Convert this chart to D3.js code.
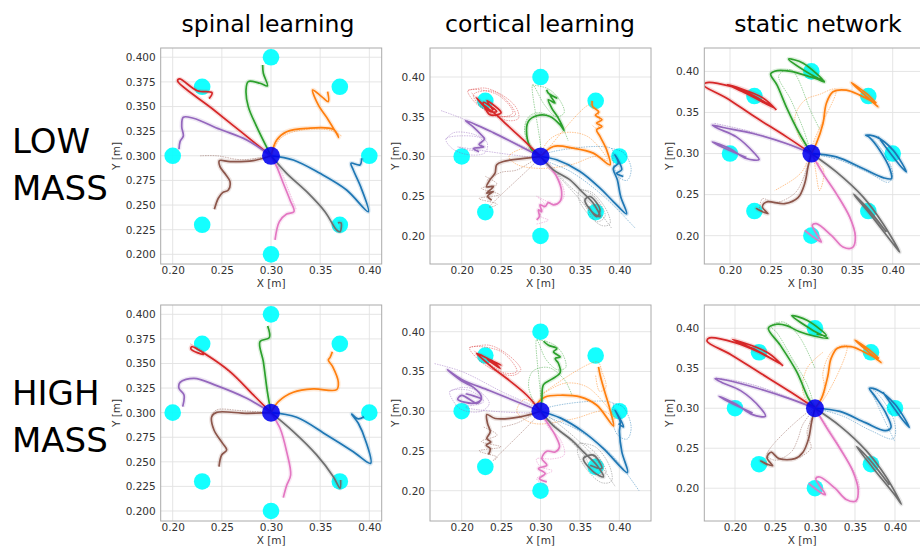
<!DOCTYPE html>
<html><head><meta charset="utf-8">
<script src="https://cdn.jsdelivr.net/npm/d3@7"></script>
<style>body{margin:0;background:#fff}svg{display:block;font-family:"DejaVu Sans",sans-serif}</style>
</head><body><svg id="c" width="920" height="549"></svg>
<script>
const columnTitles = ["spinal learning", "cortical learning", "static network"];
const rowLabels = [["LOW", "MASS"], ["HIGH", "MASS"]];
const colorNames = ["blue", "orange", "green", "red", "purple", "brown", "pink", "gray"];
const palette = {blue:"#1f77b4", orange:"#ff7f0e", green:"#2ca02c", red:"#d62728",
  purple:"#9467bd", brown:"#8c564b", pink:"#e377c2", gray:"#6f6f6f"};
const targetX = [0.30, 0.37, 0.40, 0.37, 0.30, 0.23, 0.20, 0.23];
const targetY = [0.40, 0.37, 0.30, 0.23, 0.20, 0.23, 0.30, 0.37];
const startX = [0.30], startY = [0.30];
const xTicks = [0.20, 0.25, 0.30, 0.35, 0.40];
const yTicksFine = [0.200, 0.225, 0.250, 0.275, 0.300, 0.325, 0.350, 0.375, 0.400];
const yTicksCoarse = [0.20, 0.25, 0.30, 0.35, 0.40];

// ---- spinal learning, low mass
const spinalLow = {
  red: [[0.3,0.3],[0.27,0.324],[0.24,0.348],[0.205,0.376],[0.207,0.378],[0.225,0.366],[0.24,0.364],[0.237,0.358]],
  green: [[0.3,0.3],[0.2854,0.3296],[0.2769,0.3499],[0.2746,0.3668],[0.2769,0.3753],[0.2888,0.3736],[0.2963,0.3709],[0.2922,0.3838],[0.2915,0.3922]],
  orange: [[0.3,0.3],[0.3058,0.3161],[0.3159,0.3245],[0.3363,0.3279],[0.3634,0.3269],[0.3688,0.3188],[0.3583,0.3364],[0.3481,0.3516],[0.3424,0.3668],[0.3515,0.3601],[0.3583,0.355],[0.3576,0.3651]],
  blue: [[0.3,0.3],[0.3227,0.2958],[0.3498,0.2822],[0.3769,0.2653],[0.399,0.2433],[0.3912,0.2687],[0.3837,0.2856],[0.3814,0.2924],[0.3905,0.2907],[0.3922,0.2975]],
  gray: [[0.3,0.3],[0.3159,0.2822],[0.3363,0.2636],[0.3549,0.2433],[0.3668,0.2247],[0.3702,0.223],[0.3712,0.232],[0.368,0.232]],
  pink: [[0.3,0.3],[0.3058,0.289],[0.3125,0.2721],[0.3193,0.2552],[0.3234,0.2433],[0.3159,0.2409],[0.3085,0.2332],[0.3041,0.2146]],
  brown: [[0.3,0.3],[0.282,0.2951],[0.2583,0.2941],[0.2475,0.2951],[0.2481,0.289],[0.2542,0.2805],[0.2583,0.2738],[0.2566,0.2653],[0.2508,0.2626],[0.2464,0.2569],[0.2424,0.2457]],
  purple: [[0.3,0.3],[0.2753,0.3161],[0.2481,0.3269],[0.221,0.3381],[0.2108,0.3391],[0.2092,0.3296],[0.2108,0.3201],[0.2075,0.3144],[0.2064,0.3066]]
};
const spinalLowFaint = {
  brown: [[0.3,0.3],[0.27,0.296],[0.245,0.3],[0.228,0.3]],
  orange: [[0.3,0.3],[0.31,0.318],[0.33,0.326],[0.36,0.326],[0.372,0.32]],
  pink: [[0.3,0.3],[0.31,0.285],[0.318,0.265],[0.326,0.245]]
};
// ---- spinal learning, high mass
const spinalHigh = {
  red: [[0.3,0.3],[0.282,0.318],[0.2583,0.3417],[0.2346,0.3586],[0.2193,0.3671],[0.2186,0.3647],[0.2312,0.3593],[0.2295,0.362]],
  green: [[0.3,0.3],[0.2963,0.3214],[0.2922,0.3519],[0.2888,0.3722],[0.2983,0.3763],[0.2966,0.3881]],
  orange: [[0.3,0.3],[0.3075,0.3112],[0.3227,0.3207],[0.343,0.3241],[0.3668,0.3234],[0.3685,0.3308],[0.3627,0.3468],[0.3583,0.3536],[0.36,0.356],[0.3624,0.362]],
  blue: [[0.3,0.3],[0.3261,0.2953],[0.3566,0.2773],[0.3837,0.2603],[0.4014,0.2485],[0.3966,0.2705],[0.3888,0.2892],[0.382,0.2986],[0.3888,0.2936],[0.3946,0.2959]],
  gray: [[0.3,0.3],[0.3227,0.2807],[0.3464,0.257],[0.3634,0.2349],[0.3702,0.2231],[0.3708,0.2315]],
  pink: [[0.3,0.3],[0.3092,0.2841],[0.3159,0.2603],[0.32,0.2366],[0.3159,0.2258],[0.3125,0.2136]],
  brown: [[0.3,0.3],[0.2753,0.2993],[0.2447,0.3003],[0.2397,0.2959],[0.242,0.2824],[0.2508,0.2688],[0.2549,0.262],[0.2498,0.2569],[0.2471,0.2451]],
  purple: [[0.3,0.3],[0.2753,0.3146],[0.2447,0.3275],[0.2217,0.3349],[0.2075,0.3308],[0.2064,0.3247],[0.2115,0.318],[0.2102,0.3061]]
};
const spinalHighFaint = {
  brown: [[0.3,0.3],[0.27,0.302],[0.245,0.303],[0.24,0.298]],
  red: [[0.3,0.3],[0.27,0.33],[0.24,0.356],[0.218,0.37]]
};
// ---- cortical learning, low mass
const corticalLow = {
  red: [[0.3,0.3],[0.2782,0.321],[0.2571,0.34],[0.2444,0.352],[0.2275,0.3651],[0.219,0.3735],[0.2359,0.3567],[0.2444,0.3567],[0.2275,0.368],[0.2359,0.3525],[0.25,0.355],[0.232,0.37],[0.24,0.358]],
  green: [[0.3,0.3],[0.2888,0.3084],[0.2825,0.3273],[0.2846,0.3441],[0.2951,0.3513],[0.3121,0.3504],[0.3247,0.3399],[0.3298,0.3328],[0.3226,0.3483],[0.3142,0.3609],[0.3099,0.3714],[0.3184,0.3672],[0.312,0.3777],[0.3205,0.3735],[0.3099,0.3798],[0.3078,0.384]],
  orange: [[0.3,0.3],[0.3163,0.3126],[0.3416,0.3105],[0.367,0.3042],[0.3882,0.2895],[0.3839,0.3084],[0.3755,0.3252],[0.3712,0.3336],[0.378,0.3378],[0.3712,0.342],[0.378,0.3462],[0.3697,0.352],[0.374,0.356],[0.366,0.363],[0.3655,0.37]],
  blue: [[0.3,0.3],[0.3205,0.2958],[0.3501,0.2811],[0.3755,0.2601],[0.3924,0.2433],[0.4093,0.2277],[0.4017,0.2496],[0.3975,0.2706],[0.3924,0.2853],[0.3987,0.2916],[0.3945,0.3021],[0.403,0.2832],[0.3966,0.279],[0.4051,0.2748]],
  gray: [[0.3,0.3],[0.3163,0.2832],[0.3374,0.2706],[0.3522,0.2559],[0.367,0.2412],[0.3755,0.2244],[0.367,0.2286],[0.3564,0.2454],[0.3628,0.2496],[0.3755,0.2328],[0.3712,0.2244],[0.3607,0.237]],
  pink: [[0.3,0.3],[0.3099,0.2895],[0.3205,0.2748],[0.3268,0.2559],[0.3247,0.2433],[0.3163,0.2391],[0.3099,0.242],[0.3057,0.237],[0.2994,0.2391],[0.3015,0.2307],[0.2973,0.2328],[0.2986,0.2244],[0.2951,0.2202]],
  brown: [[0.3,0.3],[0.2825,0.2979],[0.2529,0.2937],[0.2444,0.2895],[0.2423,0.279],[0.2359,0.2706],[0.2317,0.262],[0.2402,0.2622],[0.2317,0.2538],[0.24,0.256],[0.233,0.25],[0.238,0.245]],
  purple: [[0.3,0.3],[0.27,0.315],[0.24,0.33],[0.205,0.345],[0.215,0.337],[0.225,0.327],[0.229,0.322],[0.222,0.315],[0.228,0.312],[0.215,0.31],[0.222,0.306]]
};
const corticalLowFaint = {
  red: [[0.208,0.383],[0.23,0.386],[0.255,0.375],[0.27,0.36],[0.272,0.348],[0.26,0.345],[0.235,0.355],[0.215,0.37],[0.208,0.383],[0.245,0.378],[0.265,0.355],[0.25,0.35],[0.222,0.365],[0.215,0.378],[0.24,0.382],[0.262,0.365],[0.268,0.352],[0.245,0.352],[0.22,0.372],[0.212,0.381]],
  purple: [[0.18,0.322],[0.19,0.33],[0.215,0.328],[0.232,0.318],[0.23,0.305],[0.21,0.302],[0.188,0.31],[0.18,0.322],[0.2,0.326],[0.225,0.322],[0.22,0.308],[0.195,0.312],[0.3,0.3],[0.25,0.325],[0.2,0.348],[0.173,0.358]],
  brown: [[0.23,0.275],[0.245,0.265],[0.225,0.26],[0.248,0.252],[0.222,0.247],[0.245,0.24],[0.235,0.236],[0.3,0.3],[0.27,0.283],[0.25,0.28],[0.232,0.27]],
  orange: [[0.3,0.3],[0.28,0.31],[0.26,0.3],[0.27,0.29],[0.3,0.285],[0.34,0.29],[0.37,0.3],[0.385,0.295],[0.36,0.325],[0.33,0.33],[0.31,0.32],[0.3,0.3],[0.362,0.365],[0.37,0.36],[0.375,0.345],[0.372,0.335],[0.365,0.34]],
  gray: [[0.35,0.258],[0.365,0.255],[0.385,0.23],[0.388,0.215],[0.378,0.213],[0.36,0.228],[0.348,0.248],[0.35,0.258],[0.368,0.25],[0.382,0.225],[0.372,0.218],[0.355,0.24],[0.3,0.3],[0.34,0.26],[0.37,0.235],[0.39,0.21]],
  blue: [[0.39,0.31],[0.405,0.305],[0.415,0.285],[0.41,0.27],[0.398,0.275],[0.392,0.295],[0.39,0.31],[0.3,0.3],[0.34,0.28],[0.38,0.25],[0.42,0.21]],
  green: [[0.29,0.39],[0.31,0.385],[0.325,0.37],[0.33,0.355],[0.32,0.35],[0.305,0.365],[0.29,0.39],[0.3,0.3],[0.28,0.33],[0.285,0.35],[0.3,0.355],[0.325,0.34],[0.335,0.32]],
  pink: [[0.3,0.3],[0.31,0.285],[0.325,0.27],[0.33,0.25],[0.32,0.24],[0.305,0.245],[0.295,0.25],[0.305,0.24],[0.3,0.225],[0.31,0.22],[0.295,0.215]]
};
// ---- cortical learning, high mass
const corticalHigh = {
  red: [[0.3,0.3],[0.2827,0.3201],[0.2573,0.3411],[0.24,0.354],[0.2235,0.3683],[0.2192,0.3725],[0.24,0.362],[0.2488,0.3537],[0.232,0.366],[0.25,0.358],[0.235,0.364]],
  green: [[0.3,0.3],[0.3017,0.3138],[0.3038,0.3335],[0.3144,0.3403],[0.325,0.3486],[0.3228,0.36],[0.3186,0.3662],[0.325,0.3683],[0.3165,0.3746],[0.3207,0.3788],[0.3101,0.383],[0.3038,0.388]],
  orange: [[0.3,0.3],[0.2953,0.3075],[0.3059,0.318],[0.325,0.3201],[0.3503,0.318],[0.3715,0.3075],[0.3926,0.2816],[0.3884,0.3013],[0.3841,0.3159],[0.3791,0.3327],[0.3757,0.3453],[0.3736,0.3558]],
  blue: [[0.3,0.3],[0.325,0.2916],[0.3545,0.274],[0.3799,0.253],[0.4104,0.2228],[0.4032,0.2488],[0.4002,0.274],[0.4011,0.2866],[0.3947,0.3013],[0.4053,0.2803],[0.399,0.2845]],
  gray: [[0.3,0.3],[0.3165,0.2816],[0.3397,0.2635],[0.3545,0.2488],[0.3715,0.2321],[0.3799,0.2174],[0.3672,0.2237],[0.3545,0.2405],[0.3672,0.2447],[0.3778,0.2279],[0.363,0.2321]],
  pink: [[0.3,0.3],[0.308,0.2866],[0.3186,0.2698],[0.3241,0.2551],[0.3186,0.2488],[0.308,0.2497],[0.3017,0.2405],[0.308,0.2321],[0.2975,0.2279],[0.3059,0.2216],[0.2987,0.2153],[0.308,0.2111]],
  brown: [[0.3,0.3],[0.2742,0.2929],[0.2425,0.2908],[0.2319,0.2958],[0.2328,0.2845],[0.2362,0.274],[0.2319,0.2656],[0.237,0.2614],[0.2311,0.2572],[0.2362,0.253],[0.234,0.2455]],
  purple: [[0.3,0.3],[0.27,0.312],[0.235,0.326],[0.2,0.34],[0.182,0.352],[0.2,0.338],[0.215,0.33],[0.225,0.318],[0.22,0.31],[0.2,0.32],[0.195,0.315],[0.215,0.31],[0.225,0.315],[0.205,0.322]]
};
const corticalHighFaint = {
  red: [[0.21,0.38],[0.235,0.383],[0.26,0.37],[0.275,0.352],[0.265,0.345],[0.24,0.352],[0.218,0.368],[0.21,0.38],[0.25,0.375],[0.27,0.35],[0.255,0.348],[0.228,0.365],[0.215,0.377]],
  purple: [[0.185,0.325],[0.2,0.33],[0.222,0.325],[0.235,0.31],[0.225,0.3],[0.2,0.302],[0.188,0.315],[0.185,0.325],[0.21,0.326],[0.228,0.312],[0.205,0.305],[0.3,0.3],[0.25,0.325],[0.2,0.35],[0.165,0.36]],
  brown: [[0.228,0.28],[0.245,0.27],[0.225,0.262],[0.25,0.255],[0.222,0.25],[0.245,0.242],[0.24,0.238],[0.3,0.3],[0.27,0.285],[0.25,0.28]],
  orange: [[0.3,0.3],[0.28,0.315],[0.27,0.3],[0.29,0.285],[0.34,0.29],[0.38,0.3],[0.395,0.29],[0.36,0.33],[0.33,0.335],[0.3,0.32],[0.372,0.362],[0.378,0.35],[0.383,0.33],[0.375,0.325],[0.37,0.345]],
  gray: [[0.35,0.26],[0.37,0.255],[0.388,0.23],[0.39,0.212],[0.378,0.21],[0.36,0.225],[0.347,0.248],[0.35,0.26],[0.372,0.245],[0.383,0.222],[0.368,0.222],[0.355,0.245],[0.3,0.3],[0.34,0.27],[0.37,0.24],[0.395,0.205]],
  blue: [[0.392,0.31],[0.405,0.305],[0.415,0.28],[0.41,0.265],[0.398,0.27],[0.39,0.295],[0.392,0.31],[0.3,0.3],[0.35,0.275],[0.39,0.245],[0.425,0.2]],
  green: [[0.295,0.39],[0.315,0.385],[0.328,0.372],[0.332,0.355],[0.322,0.352],[0.307,0.365],[0.295,0.39],[0.3,0.3],[0.285,0.33],[0.29,0.35],[0.31,0.355],[0.33,0.34],[0.34,0.32]],
  pink: [[0.3,0.3],[0.31,0.28],[0.325,0.265],[0.33,0.245],[0.315,0.24],[0.295,0.24],[0.3,0.23],[0.315,0.225],[0.295,0.215],[0.31,0.205]]
};
// ---- static network, low mass
const staticLow = {
  red: [[0.3,0.3],[0.27,0.32],[0.23,0.345],[0.195,0.368],[0.168,0.383],[0.17,0.386],[0.2,0.382],[0.23,0.37],[0.255,0.355],[0.22,0.373],[0.197,0.384],[0.24,0.368],[0.257,0.353]],
  green: [[0.3,0.3],[0.285,0.325],[0.27,0.355],[0.258,0.383],[0.25,0.397],[0.258,0.401],[0.275,0.4],[0.3,0.393],[0.316,0.388],[0.3,0.396],[0.272,0.415],[0.29,0.41],[0.316,0.387],[0.305,0.392]],
  orange: [[0.3,0.3],[0.3061,0.3122],[0.3143,0.3366],[0.3184,0.361],[0.3266,0.3752],[0.343,0.3772],[0.3594,0.3711],[0.3717,0.365],[0.382,0.3569],[0.3635,0.3732],[0.3492,0.3862],[0.3676,0.3732],[0.3799,0.361]],
  blue: [[0.3,0.3],[0.3307,0.2959],[0.3635,0.2817],[0.3881,0.2707],[0.3984,0.2695],[0.3963,0.2817],[0.384,0.3041],[0.3717,0.3195],[0.3668,0.3224],[0.3799,0.3203],[0.4004,0.3041],[0.4168,0.2776],[0.4086,0.2858],[0.382,0.3203]],
  gray: [[0.3,0.3],[0.3307,0.2776],[0.3635,0.2472],[0.3881,0.2146],[0.4086,0.18],[0.4004,0.1902],[0.3717,0.2268],[0.352,0.2504],[0.3676,0.235],[0.3922,0.2045]],
  pink: [[0.3,0.3],[0.3143,0.2756],[0.3307,0.2512],[0.3471,0.2228],[0.3541,0.1984],[0.3504,0.1854],[0.3389,0.1862],[0.3246,0.2004],[0.3061,0.2146],[0.3012,0.2126],[0.3123,0.1923],[0.3082,0.1943],[0.2918,0.2065]],
  brown: [[0.3,0.3],[0.2959,0.2837],[0.2918,0.2634],[0.2836,0.2463],[0.2672,0.239],[0.2447,0.2411],[0.2398,0.235],[0.2467,0.2268],[0.2324,0.2329],[0.2406,0.2289]],
  purple: [[0.3,0.3],[0.2693,0.3122],[0.2283,0.3244],[0.1914,0.3317],[0.1783,0.3346],[0.1852,0.3305],[0.2078,0.3203],[0.2303,0.3],[0.2357,0.2927],[0.2201,0.2939],[0.1996,0.3061],[0.1783,0.3142],[0.1914,0.3073],[0.2201,0.2951]]
};
const staticLowFaint = {
  orange: [[0.3,0.3],[0.285,0.32],[0.28,0.345],[0.292,0.365],[0.31,0.372],[0.33,0.378],[0.3,0.3],[0.315,0.28],[0.31,0.255],[0.3,0.3],[0.29,0.28],[0.28,0.27],[0.255,0.255]],
  green: [[0.3,0.3],[0.29,0.33],[0.275,0.365],[0.26,0.395],[0.275,0.402],[0.3,0.35],[0.31,0.33]],
  brown: [[0.3,0.3],[0.292,0.275],[0.28,0.252],[0.255,0.24],[0.24,0.245],[0.236,0.232]],
  pink: [[0.3,0.3],[0.318,0.27],[0.337,0.24],[0.352,0.21],[0.355,0.188]],
  blue: [[0.3,0.3],[0.335,0.292],[0.37,0.277],[0.395,0.265],[0.4,0.275],[0.39,0.3],[0.375,0.318]],
  purple: [[0.3,0.3],[0.26,0.315],[0.22,0.328],[0.18,0.337]]
};
// ---- static network, high mass
const staticHigh = {
  red: [[0.3,0.3],[0.27,0.32],[0.23,0.345],[0.195,0.367],[0.165,0.384],[0.168,0.388],[0.2,0.382],[0.23,0.37],[0.258,0.355],[0.222,0.375],[0.197,0.386],[0.24,0.37],[0.26,0.353]],
  green: [[0.3,0.3],[0.2917,0.3125],[0.2771,0.3458],[0.2563,0.3792],[0.2417,0.4],[0.2521,0.405],[0.2646,0.4033],[0.28,0.396],[0.3,0.39],[0.316,0.3875],[0.298,0.397],[0.271,0.4158],[0.29,0.41],[0.314,0.391],[0.302,0.393]],
  orange: [[0.3,0.3],[0.308,0.312],[0.316,0.34],[0.32,0.362],[0.328,0.375],[0.345,0.377],[0.36,0.371],[0.372,0.365],[0.383,0.357],[0.364,0.373],[0.35,0.385],[0.368,0.373],[0.38,0.362]],
  blue: [[0.3,0.3],[0.331,0.296],[0.363,0.282],[0.388,0.272],[0.395,0.276],[0.388,0.295],[0.375,0.315],[0.368,0.325],[0.38,0.322],[0.4,0.305],[0.418,0.276],[0.41,0.285],[0.385,0.32]],
  gray: [[0.3,0.3],[0.331,0.278],[0.364,0.247],[0.389,0.214],[0.408,0.18],[0.401,0.19],[0.372,0.226],[0.352,0.252],[0.368,0.236],[0.393,0.204]],
  pink: [[0.3,0.3],[0.315,0.275],[0.331,0.25],[0.347,0.222],[0.354,0.198],[0.351,0.184],[0.339,0.186],[0.325,0.2],[0.306,0.214],[0.301,0.212],[0.313,0.192],[0.308,0.194],[0.292,0.206]],
  brown: [[0.3,0.3],[0.296,0.284],[0.292,0.262],[0.285,0.245],[0.275,0.237],[0.255,0.237],[0.245,0.245],[0.24,0.238],[0.247,0.228],[0.232,0.234],[0.241,0.229]],
  purple: [[0.3,0.3],[0.268,0.312],[0.228,0.325],[0.19,0.335],[0.175,0.337],[0.184,0.332],[0.207,0.322],[0.232,0.3],[0.238,0.29],[0.222,0.292],[0.2,0.306],[0.18,0.315],[0.192,0.308],[0.222,0.294]]
};
const staticHighFaint = {
  orange: [[0.3,0.3],[0.312,0.32],[0.31,0.345],[0.322,0.372],[0.34,0.378],[0.3,0.3],[0.285,0.32],[0.29,0.35],[0.31,0.37]],
  green: [[0.3,0.3],[0.29,0.33],[0.27,0.365],[0.252,0.395],[0.245,0.402],[0.26,0.408],[0.28,0.39],[0.3,0.35]],
  brown: [[0.3,0.3],[0.285,0.28],[0.278,0.26],[0.27,0.245],[0.25,0.235],[0.24,0.242],[0.3,0.3],[0.29,0.27],[0.295,0.25],[0.28,0.238]],
  pink: [[0.3,0.3],[0.32,0.27],[0.338,0.24],[0.355,0.205],[0.352,0.182]],
  blue: [[0.3,0.3],[0.335,0.29],[0.37,0.272],[0.398,0.262],[0.4,0.28],[0.385,0.31],[0.37,0.325],[0.38,0.3],[0.4,0.258]],
  purple: [[0.3,0.3],[0.26,0.316],[0.22,0.33],[0.175,0.338]]
};

const panels = [
  {row:0,col:0,main:spinalLow, faint:spinalLowFaint, px:[160.7,381.7,48,264], xd:[0.1878,0.4126], yd:[0.1902,0.4094], yt:yTicksFine, yf:".3f"},
  {row:0,col:1,main:corticalLow, faint:corticalLowFaint, px:[430,651,48,264], xd:[0.1598,0.4402], yd:[0.1647,0.4365], yt:yTicksCoarse, yf:".2f"},
  {row:0,col:2,main:staticLow, faint:staticLowFaint, px:[704.3,932,48,264], xd:[0.1684,0.4483], yd:[0.1655,0.4285], yt:yTicksCoarse, yf:".2f"},
  {row:1,col:0,main:spinalHigh, faint:spinalHighFaint, px:[160.7,381.7,305,521], xd:[0.1878,0.4126], yd:[0.1898,0.4095], yt:yTicksFine, yf:".3f"},
  {row:1,col:1,main:corticalHigh, faint:corticalHighFaint, px:[430,651,305,521], xd:[0.1598,0.4402], yd:[0.1619,0.4336], yt:yTicksCoarse, yf:".2f"},
  {row:1,col:2,main:staticHigh, faint:staticHighFaint, px:[704.3,932,305,521], xd:[0.1616,0.4463], yd:[0.159,0.4291], yt:yTicksCoarse, yf:".2f"}
];

const svg = d3.select("#c");
const titleX = [268, 540, 818];
columnTitles.forEach((t,i)=>svg.append("text").attr("x",titleX[i]).attr("y",32)
  .attr("text-anchor","middle").attr("font-size",23.5).attr("fill","#000").text(t));
const rowBase = [[153,200],[405,452]];
rowLabels.forEach((lines,r)=>lines.forEach((l,k)=>svg.append("text").attr("x",12).attr("y",rowBase[r][k])
  .attr("font-size",34).attr("fill","#000").text(l)));

panels.forEach((p,i)=>{
  const [L,R,T,B] = p.px;
  const x = d3.scaleLinear().domain(p.xd).range([L,R]);
  const y = d3.scaleLinear().domain(p.yd).range([B,T]);
  const g = svg.append("g");
  const cid = "clip"+i;
  svg.append("clipPath").attr("id",cid).append("rect").attr("x",L).attr("y",T).attr("width",R-L).attr("height",B-T);
  const grid = g.append("g").attr("stroke","#e2e2e2").attr("stroke-width",0.9);
  xTicks.forEach(v=>{ if(x(v)<=R) grid.append("line").attr("x1",x(v)).attr("x2",x(v)).attr("y1",T).attr("y2",B);});
  p.yt.forEach(v=>grid.append("line").attr("x1",L).attr("x2",R).attr("y1",y(v)).attr("y2",y(v)));
  const xa = g.append("g").attr("transform",`translate(0,${B})`)
    .call(d3.axisBottom(x).tickValues(xTicks).tickFormat(d3.format(".2f")).tickSize(0).tickPadding(2.5));
  const ya = g.append("g").attr("transform",`translate(${L},0)`)
    .call(d3.axisLeft(y).tickValues(p.yt).tickFormat(d3.format(p.yf)).tickSize(0).tickPadding(5));
  [xa,ya].forEach(a=>{a.select(".domain").remove();
    a.selectAll("text").attr("font-size",10.5).attr("fill","#333").attr("font-family","DejaVu Sans");});
  g.append("text").attr("x",(L+Math.min(R,920))/2 - (p.col===2?10:0)).attr("y",B+23).attr("text-anchor","middle")
    .attr("font-size",10.5).attr("fill","#333").text("X [m]");
  const ylx = p.col===0 ? L-41 : L-31;
  g.append("text").attr("transform",`translate(${ylx},${(T+B)/2}) rotate(-90)`).attr("text-anchor","middle")
    .attr("font-size",10.5).attr("fill","#333").text("Y [m]");

  const plot = g.append("g").attr("clip-path",`url(#${cid})`);
  plot.selectAll(".tg").data(targetX.map((tx,k)=>[tx,targetY[k]])).join("circle")
    .attr("cx",d=>x(d[0])).attr("cy",d=>y(d[1])).attr("r",8.3).attr("fill","#00ffff").attr("opacity",0.92);
  const line = d3.line().x(d=>x(d[0])).y(d=>y(d[1])).curve(d3.curveCatmullRom.alpha(0.5));
  Object.entries(p.faint).forEach(([c,pts])=>{
    plot.append("path").attr("d",line(pts)).attr("fill","none").attr("stroke",palette[c])
      .attr("stroke-width",0.9).attr("stroke-opacity",0.5).attr("stroke-dasharray","1.5,1");
  });
  colorNames.forEach(c=>{
    plot.append("path").attr("d",line(p.main[c])).attr("fill","none").attr("stroke",palette[c])
      .attr("stroke-width",4.5).attr("stroke-opacity",0.16).attr("stroke-linejoin","round");
  });
  colorNames.forEach(c=>{
    plot.append("path").attr("d",line(p.main[c])).attr("fill","none").attr("stroke",palette[c])
      .attr("stroke-width",1.7).attr("stroke-linejoin","round");
  });
  plot.append("circle").attr("cx",x(startX[0])).attr("cy",y(startY[0])).attr("r",9)
    .attr("fill","#0000ee").attr("opacity",0.88);
  g.append("rect").attr("x",L).attr("y",T).attr("width",R-L).attr("height",B-T)
    .attr("fill","none").attr("stroke","#aaaaaa").attr("stroke-width",1);
});
</script></body></html>
